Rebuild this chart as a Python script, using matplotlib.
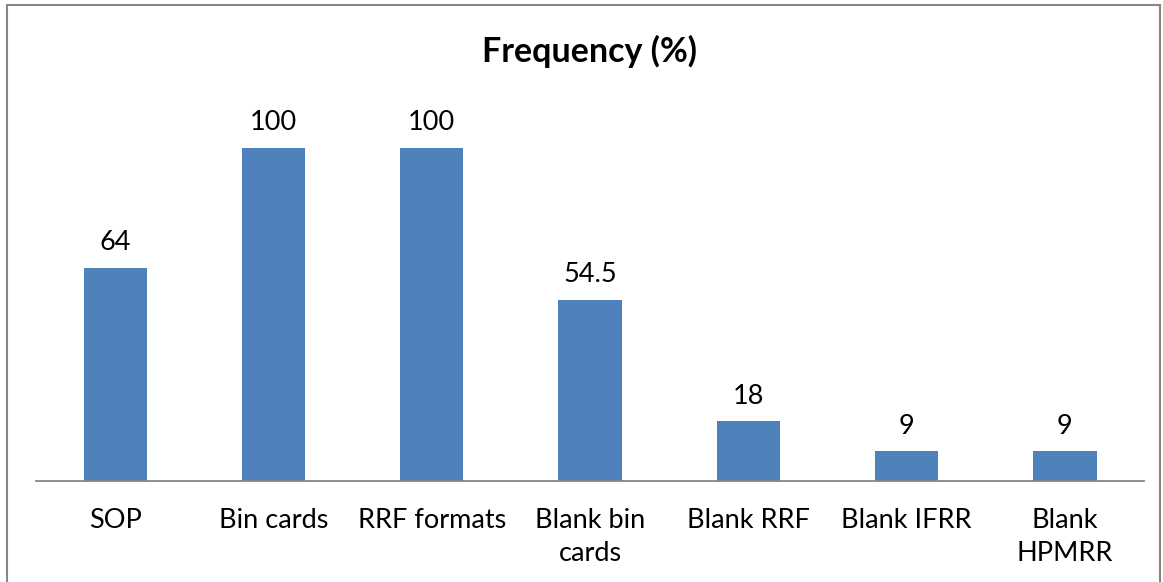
import matplotlib
matplotlib.use("Agg")
import matplotlib.pyplot as plt
from matplotlib.patches import Rectangle

# frequency of each stock-management tool (%)
categories = ["SOP", "Bin cards", "RRF formats", "Blank bin\ncards",
              "Blank RRF", "Blank IFRR", "Blank\nHPMRR"]
values = [64, 100, 100, 54.5, 18, 9, 9]
value_labels = ["64", "100", "100", "54.5", "18", "9", "9"]

plt.rcParams['font.family'] = ['Lato', 'DejaVu Sans']

fig = plt.figure(figsize=(11.63, 5.82), dpi=100)
ax = fig.add_axes([0.031, 0.1727, 0.9527, 0.688])

x = range(len(categories))
bars = ax.bar(x, values, width=0.4, color="#4F81BD")
for b, lab in zip(bars, value_labels):
    ax.text(b.get_x() + b.get_width() / 2, b.get_height() + 3.8, lab,
            ha="center", va="bottom", fontsize=19.5, color="black")

ax.set_xlim(-0.5, len(categories) - 0.5)
ax.set_ylim(0, 120)
ax.set_xticks(list(x))
ax.set_xticklabels(categories, fontsize=19.5, linespacing=1.42)
ax.tick_params(axis="x", length=0, pad=19)
ax.set_yticks([])
for s in ["top", "left", "right"]:
    ax.spines[s].set_visible(False)
ax.spines["bottom"].set_color("#868686")
ax.spines["bottom"].set_linewidth(1.3)

fig.text(0.507, 0.912, "Frequency (%)", ha="center", va="center",
         fontsize=24.5, fontweight="bold")

# outer chart border
fig.patches.append(Rectangle((7 / 1163, -0.05), 1153 / 1163, 1.05 - 5 / 582,
                             transform=fig.transFigure, fill=False,
                             edgecolor="#868686", linewidth=1.5))

fig.savefig("out.png", dpi=100)
